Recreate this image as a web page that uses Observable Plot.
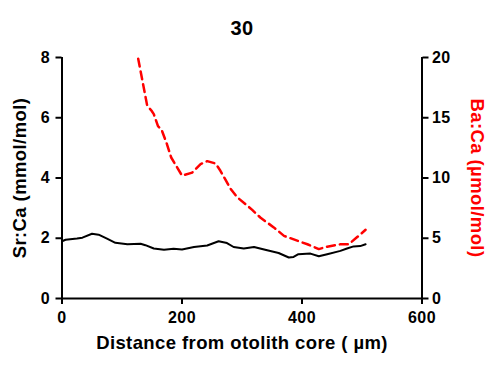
<!DOCTYPE html>
<html><head><meta charset="utf-8">
<script src="https://cdn.jsdelivr.net/npm/d3@7"></script>
<script src="https://cdn.jsdelivr.net/npm/@observablehq/plot@0.6"></script>
<style>body{margin:0;background:#fff}</style>
</head><body><div id="chart"></div>
<script>
const title = "30";
const xLabel = "Distance from otolith core ( µm)";
const leftLabel = "Sr:Ca (mmol/mol)";
const rightLabel = "Ba:Ca (µmol/mol)";
const xTicks = [0, 200, 400, 600];
const srTicks = [0, 2, 4, 6, 8];
const baTicks = [0, 5, 10, 15, 20];

const srDist = [0,6,25,34,50,61,75,89,109,131,139,153,170,186,200,220,242,261,275,286,303,320,342,361,378,386,394,414,428,442,464,475,486,497,506];
const srVal  = [1.9,1.95,1.99,2.02,2.15,2.12,1.99,1.85,1.8,1.82,1.77,1.66,1.62,1.65,1.63,1.71,1.76,1.9,1.84,1.71,1.66,1.71,1.6,1.51,1.36,1.38,1.47,1.49,1.4,1.47,1.58,1.66,1.73,1.74,1.8];

const baDist = [127,142,149,153,160,166,175,182,200,217,231,242,256,264,281,292,309,317,331,353,370,392,409,428,442,464,478,492,506];
const baVal  = [19.9,16.0,15.6,15.3,14.3,14.0,12.8,11.7,10.2,10.45,11.15,11.4,11.2,10.6,9.1,8.4,7.7,7.35,6.7,5.9,5.2,4.8,4.5,4.1,4.3,4.5,4.5,5.1,5.7];

const ratio = 20 / 8;
const sr = srDist.map((d, i) => ({x: d, y: srVal[i]}));
const ba = baDist.map((d, i) => ({x: d, y: baVal[i]}));
const font = "Liberation Sans, Arial, sans-serif";
const tickStyle = {fontSize: 16, fontWeight: "bold", strokeWidth: 2, label: null};

const plot = Plot.plot({
  width: 492, height: 369,
  marginLeft: 61.5, marginRight: 70.5, marginTop: 57, marginBottom: 71,
  style: {fontFamily: font, fontSize: "16px", fontWeight: "bold", color: "#000", background: "#fff", letterSpacing: "0.4px"},
  x: {domain: [0, 600]},
  y: {domain: [0, 8]},
  marks: [
    Plot.axisX({...tickStyle, ticks: xTicks, tickSize: 6, tickPadding: 7}),
    Plot.axisY({...tickStyle, anchor: "left", ticks: srTicks, tickSize: 6, tickPadding: 6}),
    Plot.axisY({...tickStyle, anchor: "right", ticks: baTicks.map(v => v / ratio), tickFormat: v => String(Math.round(v * ratio)), tickSize: 6, tickPadding: 4}),
    Plot.ruleX([0, 600], {stroke: "#000", strokeWidth: 2}),
    Plot.ruleY([0], {stroke: "#000", strokeWidth: 2}),
    Plot.line(sr, {x: "x", y: "y", stroke: "#000", strokeWidth: 2}),
    Plot.line(ba, {x: "x", y: d => d.y / ratio, stroke: "#ff0000", strokeWidth: 2.5, strokeDasharray: "8,5"}),
    Plot.text([title], {frameAnchor: "top", dy: -37, fontSize: 20, fontWeight: "bold", fill: "#000"}),
    Plot.text([xLabel], {frameAnchor: "bottom", dy: 50, fontSize: 18.5, fontWeight: "bold", fill: "#000"}),
    Plot.text([leftLabel], {frameAnchor: "left", textAnchor: "middle", dx: -42, rotate: -90, fontSize: 18.5, fontWeight: "bold", fill: "#000"}),
    Plot.text([rightLabel], {frameAnchor: "right", textAnchor: "middle", dx: 55, rotate: 90, fontSize: 18.5, fontWeight: "bold", fill: "#ff0000"})
  ]
});
document.getElementById("chart").append(plot);
</script>
</body></html>
